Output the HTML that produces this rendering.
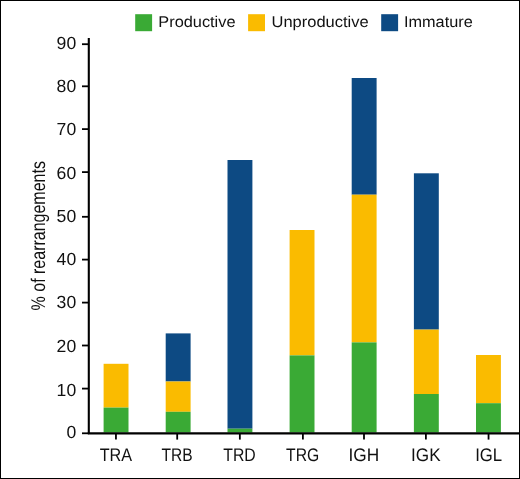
<!DOCTYPE html>
<html><head><meta charset="utf-8"><style>
html,body{margin:0;padding:0;background:#fff;}
body{width:520px;height:479px;overflow:hidden;}
svg{display:block;will-change:transform;text-rendering:geometricPrecision;}
.t{font-family:"Liberation Sans",sans-serif;font-size:17.6px;fill:#111;}
.l{font-family:"Liberation Sans",sans-serif;font-size:15.6px;fill:#111;}
.yt{font-family:"Liberation Sans",sans-serif;font-size:19.8px;fill:#111;}
</style></head><body>
<svg width="520" height="479" viewBox="0 0 520 479">
<rect x="0" y="0" width="520" height="479" fill="#fff"/>
<rect x="103.6" y="363.8" width="24.9" height="43.80" fill="#fabb00"/>
<rect x="103.6" y="407.6" width="24.9" height="24.90" fill="#3aaa35"/>
<rect x="165.7" y="333.4" width="24.9" height="48.10" fill="#0d4a83"/>
<rect x="165.7" y="381.5" width="24.9" height="30.30" fill="#fabb00"/>
<rect x="165.7" y="411.8" width="24.9" height="20.70" fill="#3aaa35"/>
<rect x="227.5" y="160.0" width="24.9" height="268.70" fill="#0d4a83"/>
<rect x="227.5" y="428.7" width="24.9" height="3.80" fill="#3aaa35"/>
<rect x="289.6" y="230.0" width="24.9" height="125.40" fill="#fabb00"/>
<rect x="289.6" y="355.4" width="24.9" height="77.10" fill="#3aaa35"/>
<rect x="351.7" y="78.0" width="24.9" height="116.70" fill="#0d4a83"/>
<rect x="351.7" y="194.7" width="24.9" height="147.70" fill="#fabb00"/>
<rect x="351.7" y="342.4" width="24.9" height="90.10" fill="#3aaa35"/>
<rect x="413.9" y="173.3" width="24.9" height="156.30" fill="#0d4a83"/>
<rect x="413.9" y="329.6" width="24.9" height="64.40" fill="#fabb00"/>
<rect x="413.9" y="394.0" width="24.9" height="38.50" fill="#3aaa35"/>
<rect x="476.0" y="355.0" width="24.9" height="48.20" fill="#fabb00"/>
<rect x="476.0" y="403.2" width="24.9" height="29.30" fill="#3aaa35"/>
<line x1="88.8" y1="38" x2="88.8" y2="433.4" stroke="#000" stroke-width="2.1"/>
<line x1="87.8" y1="433.4" x2="520" y2="433.4" stroke="#000" stroke-width="2.4"/>
<line x1="82" y1="44.2" x2="89" y2="44.2" stroke="#000" stroke-width="1.8"/>
<line x1="82" y1="86.3" x2="89" y2="86.3" stroke="#000" stroke-width="1.8"/>
<line x1="82" y1="129.1" x2="89" y2="129.1" stroke="#000" stroke-width="1.8"/>
<line x1="82" y1="172.1" x2="89" y2="172.1" stroke="#000" stroke-width="1.8"/>
<line x1="82" y1="216.8" x2="89" y2="216.8" stroke="#000" stroke-width="1.8"/>
<line x1="82" y1="259.6" x2="89" y2="259.6" stroke="#000" stroke-width="1.8"/>
<line x1="82" y1="302.6" x2="89" y2="302.6" stroke="#000" stroke-width="1.8"/>
<line x1="82" y1="345.5" x2="89" y2="345.5" stroke="#000" stroke-width="1.8"/>
<line x1="82" y1="388.6" x2="89" y2="388.6" stroke="#000" stroke-width="1.8"/>
<line x1="82" y1="433.3" x2="89" y2="433.3" stroke="#000" stroke-width="1.8"/>
<line x1="115.95" y1="433.4" x2="115.95" y2="439.6" stroke="#000" stroke-width="1.8"/>
<line x1="177.20" y1="433.4" x2="177.20" y2="439.6" stroke="#000" stroke-width="1.8"/>
<line x1="239.85" y1="433.4" x2="239.85" y2="439.6" stroke="#000" stroke-width="1.8"/>
<line x1="302.90" y1="433.4" x2="302.90" y2="439.6" stroke="#000" stroke-width="1.8"/>
<line x1="364.00" y1="433.4" x2="364.00" y2="439.6" stroke="#000" stroke-width="1.8"/>
<line x1="425.90" y1="433.4" x2="425.90" y2="439.6" stroke="#000" stroke-width="1.8"/>
<line x1="488.55" y1="433.4" x2="488.55" y2="439.6" stroke="#000" stroke-width="1.8"/>
<text x="76.2" y="49" text-anchor="end" class="t">90</text>
<text x="76.2" y="92" text-anchor="end" class="t">80</text>
<text x="76.2" y="135" text-anchor="end" class="t">70</text>
<text x="76.2" y="179" text-anchor="end" class="t">60</text>
<text x="76.2" y="222" text-anchor="end" class="t">50</text>
<text x="76.2" y="265" text-anchor="end" class="t">40</text>
<text x="76.2" y="308" text-anchor="end" class="t">30</text>
<text x="76.2" y="352" text-anchor="end" class="t">20</text>
<text x="76.2" y="396" text-anchor="end" class="t">10</text>
<text x="76.2" y="438" text-anchor="end" class="t">0</text>
<text x="115.90" y="461" text-anchor="middle" class="t" style="font-size:18.2px" textLength="32.40" lengthAdjust="spacingAndGlyphs">TRA</text>
<text x="177.15" y="461" text-anchor="middle" class="t" style="font-size:18.2px" textLength="31.10" lengthAdjust="spacingAndGlyphs">TRB</text>
<text x="239.55" y="461" text-anchor="middle" class="t" style="font-size:18.2px" textLength="32.50" lengthAdjust="spacingAndGlyphs">TRD</text>
<text x="302.70" y="461" text-anchor="middle" class="t" style="font-size:18.2px" textLength="33.20" lengthAdjust="spacingAndGlyphs">TRG</text>
<text x="363.85" y="461" text-anchor="middle" class="t" style="font-size:18.2px" textLength="30.70" lengthAdjust="spacingAndGlyphs">IGH</text>
<text x="425.90" y="461" text-anchor="middle" class="t" style="font-size:18.2px" textLength="29.60" lengthAdjust="spacingAndGlyphs">IGK</text>
<text x="488.70" y="461" text-anchor="middle" class="t" style="font-size:18.2px" textLength="27.00" lengthAdjust="spacingAndGlyphs">IGL</text>
<rect x="135.2" y="14.2" width="16.9" height="17" fill="#3aaa35"/>
<text x="158.30" y="27" class="l" textLength="77.20" lengthAdjust="spacingAndGlyphs">Productive</text>
<rect x="248.1" y="14.2" width="16.9" height="17" fill="#fabb00"/>
<text x="271.50" y="27" class="l" textLength="97.20" lengthAdjust="spacingAndGlyphs">Unproductive</text>
<rect x="381.2" y="14.2" width="16.9" height="17" fill="#0d4a83"/>
<text x="404.00" y="27" class="l" textLength="68.70" lengthAdjust="spacingAndGlyphs">Immature</text>
<text transform="translate(45.3,310.4) rotate(-90)" x="0" y="0" class="yt" textLength="149.3" lengthAdjust="spacingAndGlyphs">% of rearrangements</text>
<rect x="0.5" y="0.5" width="519" height="478" fill="none" stroke="#000" stroke-width="1"/>
</svg>
</body></html>
